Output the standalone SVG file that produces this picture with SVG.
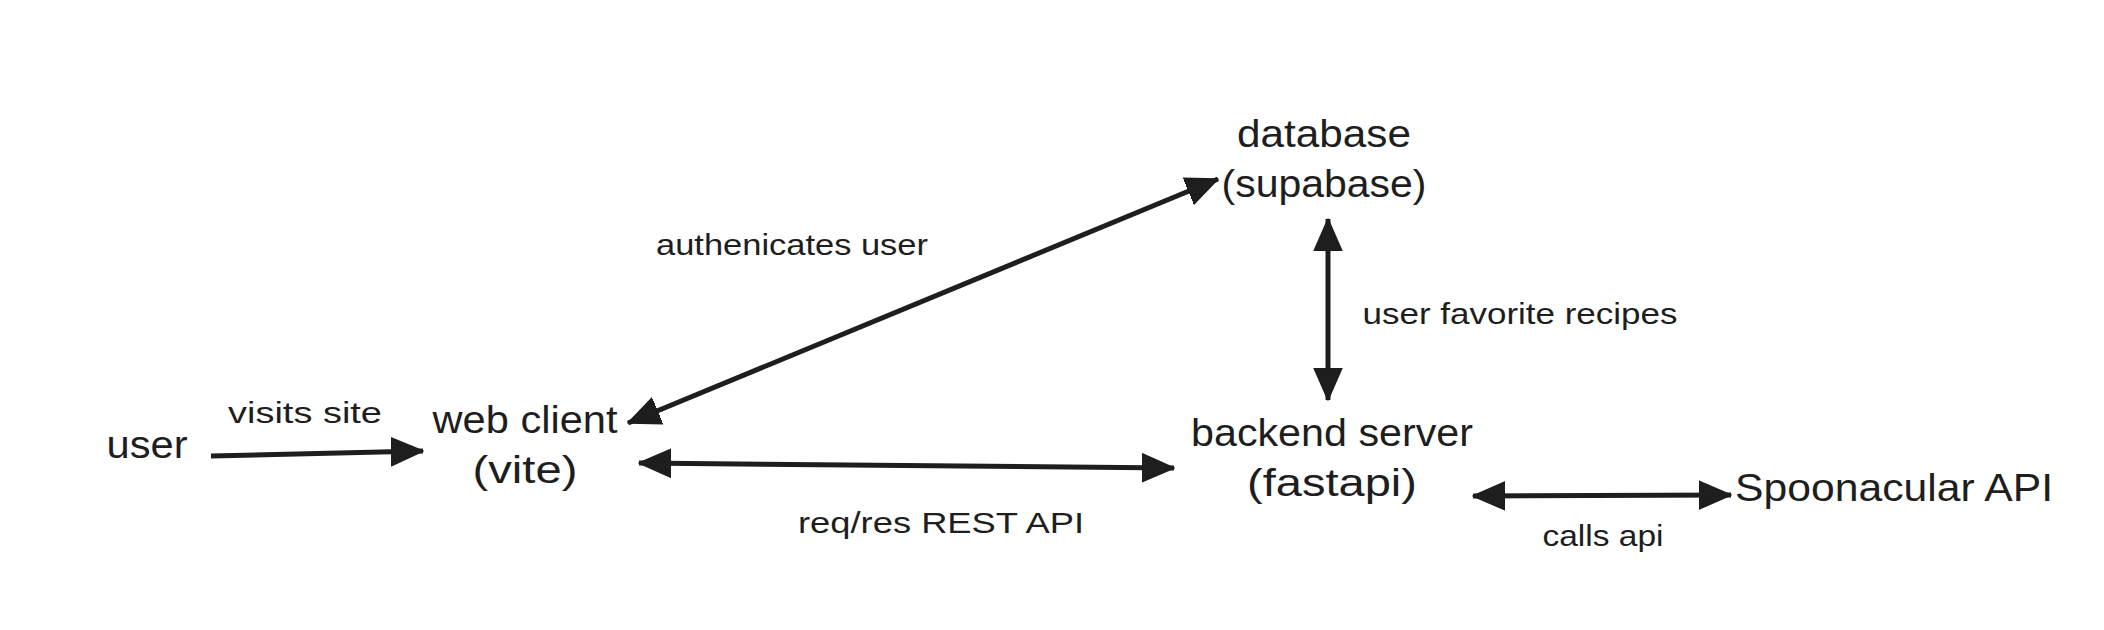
<svg xmlns="http://www.w3.org/2000/svg" width="2104" height="630" viewBox="0 0 2104 630">
<style>
.node{font-family:"Liberation Sans","Noto Sans",sans-serif;font-size:38px;fill:#1e1e1e;text-anchor:middle;dominant-baseline:central}
.lbl{font-family:"Liberation Sans","Noto Sans",sans-serif;font-size:29px;fill:#1e1e1e;text-anchor:middle;dominant-baseline:central}
.conn{stroke:#1e1e1e;stroke-width:5;fill:none;stroke-linecap:butt}
</style>
<defs>
<marker id="ah" markerUnits="userSpaceOnUse" markerWidth="34" markerHeight="30" viewBox="0 0 34 30" refX="32" refY="15" orient="auto-start-reverse">
<path d="M0,1 L32,15 L0,29 z" fill="#1e1e1e" stroke="#1e1e1e" stroke-width="1.5" stroke-linejoin="round"/>
</marker>
</defs>
<rect width="2104" height="630" fill="#ffffff"/>
<g id="connectors">
<path class="conn" d="M211,456 L423,451" marker-end="url(#ah)"/>
<path class="conn" d="M628,423 L1218,179" marker-start="url(#ah)" marker-end="url(#ah)"/>
<path class="conn" d="M1328,219 L1328,400" marker-start="url(#ah)" marker-end="url(#ah)"/>
<path class="conn" d="M639,463 L1174,468" marker-start="url(#ah)" marker-end="url(#ah)"/>
<path class="conn" d="M1473,496 L1731,495" marker-start="url(#ah)" marker-end="url(#ah)"/>
</g>
<g id="labels">
<text class="lbl" x="305" y="413" textLength="154" lengthAdjust="spacingAndGlyphs">visits site</text>
<text class="lbl" x="792" y="245" textLength="272" lengthAdjust="spacingAndGlyphs">authenicates user</text>
<text class="lbl" x="1520" y="314" textLength="315" lengthAdjust="spacingAndGlyphs">user favorite recipes</text>
<text class="lbl" x="941" y="523" textLength="286" lengthAdjust="spacingAndGlyphs">req/res REST API</text>
<text class="lbl" x="1603" y="536" textLength="121" lengthAdjust="spacingAndGlyphs">calls api</text>
</g>
<g id="user">
<text class="node" x="147" y="445" textLength="81" lengthAdjust="spacingAndGlyphs">user</text>
</g>
<g id="web-client">
<text class="node" x="525" y="420" textLength="185" lengthAdjust="spacingAndGlyphs">web client</text>
<text class="node" x="525" y="470" textLength="105" lengthAdjust="spacingAndGlyphs">(vite)</text>
</g>
<g id="database">
<text class="node" x="1324" y="134" textLength="174" lengthAdjust="spacingAndGlyphs">database</text>
<text class="node" x="1324" y="184" textLength="205" lengthAdjust="spacingAndGlyphs">(supabase)</text>
</g>
<g id="backend-server">
<text class="node" x="1332" y="433" textLength="282" lengthAdjust="spacingAndGlyphs">backend server</text>
<text class="node" x="1332" y="483" textLength="170" lengthAdjust="spacingAndGlyphs">(fastapi)</text>
</g>
<g id="spoonacular">
<text class="node" x="1894" y="488" textLength="318" lengthAdjust="spacingAndGlyphs">Spoonacular API</text>
</g>
</svg>
